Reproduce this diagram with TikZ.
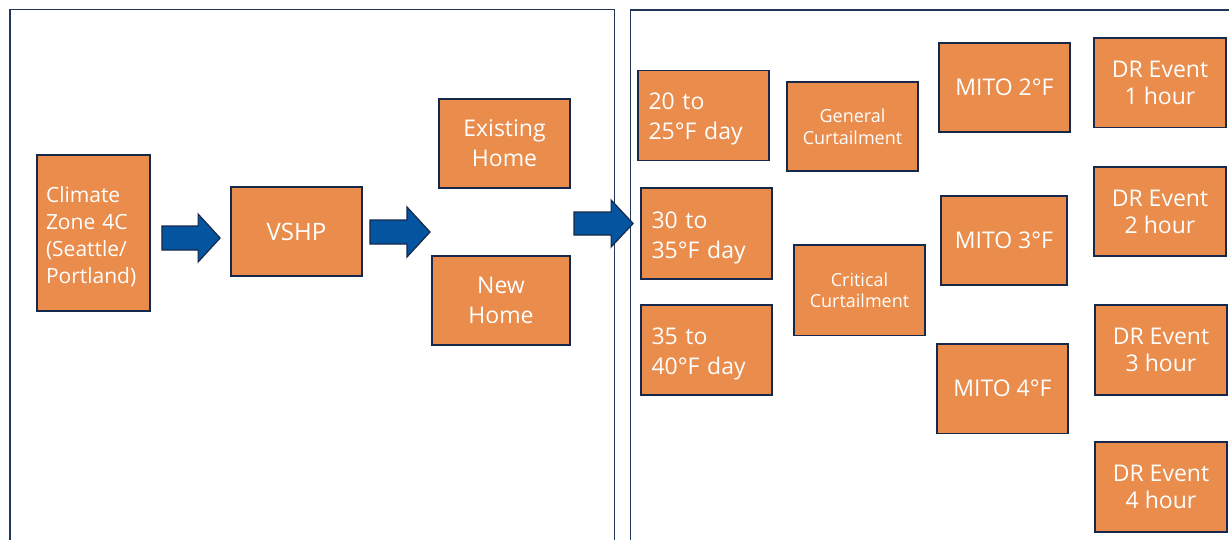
\documentclass[tikz,border=0pt]{standalone}
\usepackage{fontspec}
\setmainfont{Open Sans}
\usetikzlibrary{calc}
\definecolor{boxorange}{HTML}{E98C4C}
\definecolor{boxedge}{HTML}{16294A}
\definecolor{arrowblue}{HTML}{02559E}
\definecolor{paneledge}{HTML}{22385A}
\tikzset{
  box/.style={rectangle, draw=boxedge, line width=1.8pt, fill=boxorange, text=white, inner sep=0pt, font=\fontsize{23}{30}\selectfont, align=center},
  leftbox/.style={box, align=left},
  smallbox/.style={box, font=\fontsize{18}{21.5}\selectfont},
  drbox/.style={box, font=\fontsize{23}{27}\selectfont},
  panel/.style={draw=paneledge, line width=1.4pt},
  blockarrow/.style={fill=arrowblue, draw=boxedge, line width=1.2pt, line join=miter}
}
\newcommand\barrow[5]{%
  \path[blockarrow] ($(#1)+(0,-#3)$) -- ($(#2)+(-#5,-#3)$) -- ($(#2)+(-#5,-#4)$) -- (#2)
   -- ($(#2)+(-#5,#4)$) -- ($(#2)+(-#5,#3)$) -- ($(#1)+(0,#3)$) -- cycle;}
\begin{document}
\begin{tikzpicture}[x=1pt,y=-1pt]
\useasboundingbox (0,0) rectangle (1229,539);
\fill[white] (0,0) rectangle (1229,539);
% panels
\draw[panel] (10,540) -- (10,9.5) -- (614.5,9.5) -- (614.5,540);
\draw[panel] (630.5,540) -- (630.5,10) -- (1230,10);
% left panel boxes
\node[leftbox, font=\fontsize{21}{27}\selectfont, minimum width=113pt, minimum height=156pt, text width=95pt, text height=24pt] (clim) at (93.5,233) {Climate\\Zone 4C\\(Seattle/\\Portland)};
\node[box, minimum width=131pt, minimum height=89pt, font=\fontsize{24}{30}\selectfont] (vshp) at (296.5,231.5) {VSHP};
\node[box, minimum width=131pt, minimum height=89pt] (exist) at (504.5,143.5) {Existing\\Home};
\node[box, minimum width=138pt, minimum height=89pt] (new) at (501,300.5) {New\\Home};
% right panel boxes
\node[leftbox, minimum width=131pt, minimum height=90pt, text width=110pt, text height=24.5pt] (t20) at (703.5,115.5) {20 to\\25°F day};
\node[leftbox, minimum width=131pt, minimum height=91pt, text width=110pt, text height=26.5pt] (t30) at (706.5,233.5) {30 to\\35°F day};
\node[leftbox, minimum width=131pt, minimum height=90pt, text width=110pt, text height=24.5pt] (t35) at (706.5,349.6) {35 to\\40°F day};
\node[smallbox, minimum width=131pt, minimum height=89pt] (gen) at (852.5,126.5) {General\\Curtailment};
\node[smallbox, minimum width=131pt, minimum height=90.5pt] (crit) at (859.5,290.25) {Critical\\Curtailment};
\node[box, minimum width=131pt, minimum height=89pt] (m2) at (1004.5,87.5) {MITO 2°F};
\node[box, minimum width=126pt, minimum height=89.4pt] (m3) at (1004,240.3) {MITO 3°F};
\node[box, minimum width=131pt, minimum height=89.5pt] (m4) at (1002.5,388.75) {MITO 4°F};
\node[drbox, minimum width=132pt, minimum height=89.5pt] (dr1) at (1160,82.75) {DR Event\\1 hour};
\node[drbox, minimum width=132pt, minimum height=89pt] (dr2) at (1160,211.5) {DR Event\\2 hour};
\node[drbox, minimum width=132pt, minimum height=89.6pt] (dr3) at (1161,349.8) {DR Event\\3 hour};
\node[drbox, minimum width=132pt, minimum height=90pt] (dr4) at (1161,487) {DR Event\\4 hour};
% block arrows
\coordinate (a1s) at ($(clim.east)+(11,5)$);
\coordinate (a1e) at ($(vshp.west)+(-10,6.5)$);
\coordinate (a2s) at ($(vshp.east)+(7,0.5)$);
\coordinate (a2e) at (430,232);
\coordinate (a3s) at (574,223.5);
\coordinate (a3e) at ($(t30.west)+(-7,-10)$);
\barrow{a1s}{a1e}{12}{24}{22}
\barrow{a2s}{a2e}{12}{25}{23}
\barrow{a3s}{a3e}{11.5}{23.5}{22}
\end{tikzpicture}
\end{document}
